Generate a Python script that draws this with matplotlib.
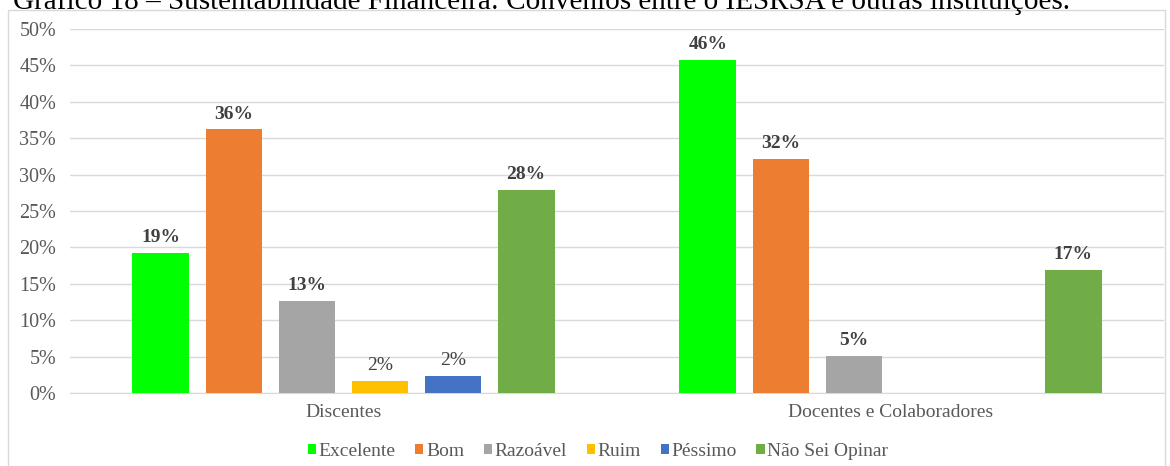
import numpy as np
import matplotlib.pyplot as plt
from matplotlib.patches import Rectangle

groups = ["Discentes", "Docentes e Colaboradores"]
series = ["Excelente", "Bom", "Razoável", "Ruim", "Péssimo", "Não Sei Opinar"]
values = {
    "Excelente": [19.2, 45.8],
    "Bom": [36.2, 32.2],
    "Razoável": [12.6, 5.1],
    "Ruim": [1.6, 0],
    "Péssimo": [2.4, 0],
    "Não Sei Opinar": [27.9, 16.9],
}
colors = ["#00FF00", "#ED7D31", "#A5A5A5", "#FFC000", "#4472C4", "#70AD47"]
yticks = [0, 5, 10, 15, 20, 25, 30, 35, 40, 45, 50]

plt.rcParams["font.family"] = ["Liberation Serif", "DejaVu Serif"]

fig = plt.figure(figsize=(11.7, 4.66), dpi=100)
ax = fig.add_axes([70 / 1170, 1 - 393 / 466, 1094 / 1170, 364 / 466])

fig.patches.append(Rectangle((8 / 1170, -0.05), 1157 / 1170, 1.05 - 10 / 466,
                             transform=fig.transFigure, fill=False,
                             edgecolor="#D9D9D9", linewidth=1))

x = np.arange(len(groups))
width = 0.104
step = 0.1335
for i, (name, color) in enumerate(zip(series, colors)):
    pos = x + (i - 2.5) * step
    vals = values[name]
    ax.bar(pos, vals, width, color=color, label=name, zorder=3)
    for p, v in zip(pos, vals):
        if v <= 0:
            continue
        bold = v >= 3
        ax.annotate(f"{round(v):.0f}%", (p, v), xytext=(0, 5), textcoords="offset points",
                    ha="center", va="bottom", fontsize=14,
                    fontweight="bold" if bold else "normal", color="#404040")

ax.set_xlim(-0.5, 1.5)
ax.set_ylim(0, 50)
ax.set_yticks(yticks)
ax.set_yticklabels([f"{t}%" for t in yticks])
ax.set_xticks(x)
ax.set_xticklabels(groups)
ax.yaxis.grid(True, color="#D9D9D9", linewidth=1, zorder=0)
ax.tick_params(axis="y", length=0, labelsize=14.5, colors="#595959", pad=10)
ax.tick_params(axis="x", length=0, labelsize=14, colors="#595959", pad=8)
for s in ["top", "right", "left"]:
    ax.spines[s].set_visible(False)
ax.spines["bottom"].set_color("#D9D9D9")

ax.legend(loc="center", bbox_to_anchor=((598 - 70) / 1094, 1 - (451 - 29) / 364), ncol=6,
          frameon=False, fontsize=14, handlelength=0.42, handleheight=0.42,
          handletextpad=0.15, columnspacing=1.0, labelcolor="#595959",
          borderaxespad=0)

fig.text(13 / 1170, 1 - 9 / 466, "Gráfico 18 – Sustentabilidade Financeira: Convênios entre o IESRSA e outras instituições.",
         fontsize=21, va="baseline", ha="left", color="black")

fig.savefig("out.png", dpi=100)
